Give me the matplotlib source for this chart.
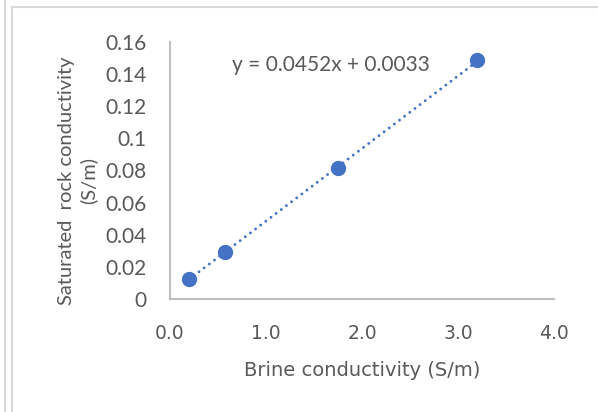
import matplotlib
matplotlib.use("Agg")
import matplotlib.pyplot as plt
from matplotlib.lines import Line2D
import numpy as np

# Measured data
brine = [0.195, 0.573, 1.747, 3.198]
rock = [0.0125, 0.0293, 0.0817, 0.1486]

# Linear fit shown on the chart
slope = 0.0452
intercept = 0.0033

x_ticks = [0.0, 1.0, 2.0, 3.0, 4.0]
x_tick_labels = ["0.0", "1.0", "2.0", "3.0", "4.0"]
y_ticks = [0, 0.02, 0.04, 0.06, 0.08, 0.10, 0.12, 0.14, 0.16]
y_tick_labels = ["0", "0.02", "0.04", "0.06", "0.08", "0.1", "0.12", "0.14", "0.16"]

W, H = 598, 412
fig = plt.figure(figsize=(W / 100, H / 100), dpi=100)
fig.patch.set_facecolor("white")

ax = fig.add_axes([170 / W, 1 - 299 / H, (554 - 170) / W, (299 - 42) / H])

blue = "#4472C4"
grey_text = "#595959"
axis_grey = "#BFBFBF"

# Trendline across the data range
xs = np.array([min(brine), max(brine)])
ax.plot(xs, slope * xs + intercept, color=blue, lw=2.1,
        linestyle=(0, (0.01, 2.2)), dash_capstyle="round", zorder=2)
ax.plot(brine, rock, "o", color=blue, ms=10, mec=blue, zorder=3)

ax.set_xlim(0, 4)
ax.set_ylim(0, 0.16)
ax.set_xticks(x_ticks)
ax.set_xticklabels(x_tick_labels, fontfamily="DejaVu Sans", fontsize=13.5, color=grey_text)
ax.set_yticks(y_ticks)
ax.set_yticklabels(y_tick_labels, fontfamily="Lato", fontsize=15, color=grey_text)
ax.tick_params(axis="both", length=0)
ax.tick_params(axis="y", pad=17)
ax.tick_params(axis="x", pad=18)

for side in ("top", "right"):
    ax.spines[side].set_visible(False)
for side in ("left", "bottom"):
    ax.spines[side].set_color(axis_grey)
    ax.spines[side].set_linewidth(1.5)

ax.set_xlabel("Brine conductivity (S/m)", fontfamily="DejaVu Sans", fontsize=14,
              color=grey_text, labelpad=13)
ax.set_ylabel("Saturated  rock conductivity\n(S/m)", fontfamily="Lato", fontsize=14.5,
              color=grey_text, linespacing=1.25)
ax.yaxis.set_label_coords(-0.19, 0.46)

ax.text(0.162, 0.91, "y = 0.0452x + 0.0033", transform=ax.transAxes,
        fontfamily="Lato", fontsize=15, color=grey_text, va="center", ha="left")

# Chart-area frame lines
frame = "#D9D9D9"
fig.add_artist(Line2D([4.5 / W, 4.5 / W], [0, 1], color=frame, lw=1.5, transform=fig.transFigure))
fig.add_artist(Line2D([11.5 / W, 11.5 / W], [0, 1 - 7 / H], color=frame, lw=1.5, transform=fig.transFigure))
fig.add_artist(Line2D([11.5 / W, 1], [1 - 7 / H, 1 - 7 / H], color=frame, lw=1.5, transform=fig.transFigure))

fig.savefig("out.png", dpi=100)
